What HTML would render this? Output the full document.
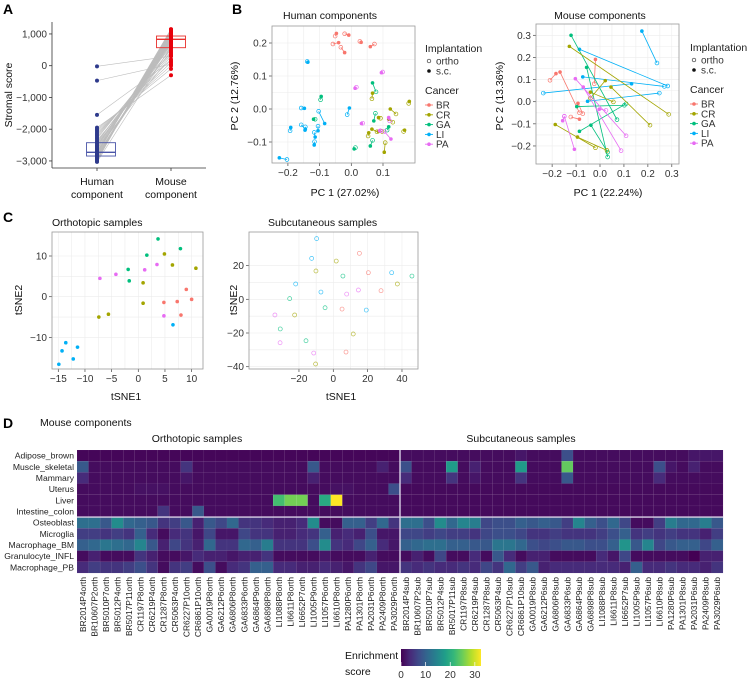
<!DOCTYPE html>
<html><head><meta charset="utf-8"><style>
html,body{margin:0;padding:0;background:#fff}
svg{display:block;font-family:"Liberation Sans",sans-serif}
text{fill:#222}
.tk{font-size:10px;fill:#333}
.ti{font-size:10.5px;fill:#111}
.lt{font-size:10.5px}
.pl{font-size:14px;font-weight:bold;fill:#000}
.grid{stroke:#ececec;stroke-width:0.6}
.box{fill:none;stroke:#999;stroke-width:0.8}
</style></head><body>
<svg id="fig" width="747" height="681" viewBox="0 0 747 681">
<text class="pl" x="3" y="14">A</text>
<text class="pl" x="232" y="14">B</text>
<text class="pl" x="3" y="222">C</text>
<text class="pl" x="3" y="428">D</text>

<g id="pa">
<line x1="52" y1="22" x2="52" y2="168" stroke="#333" stroke-width="0.8"/>
<line x1="52" y1="168" x2="206" y2="168" stroke="#333" stroke-width="0.8"/>
<text class="ti" transform="translate(12,95) rotate(-90)" text-anchor="middle">Stromal score</text>
<text class="ti" x="97" y="185" text-anchor="middle">Human</text>
<text class="ti" x="97" y="198" text-anchor="middle">component</text>
<text class="ti" x="171" y="185" text-anchor="middle">Mouse</text>
<text class="ti" x="171" y="198" text-anchor="middle">component</text>
</g>

<text class="ti" x="330" y="19" text-anchor="middle">Human components</text>
<text class="ti" transform="translate(238,96) rotate(-90)" text-anchor="middle">PC 2 (12.76%)</text>
<text class="ti" x="345" y="196" text-anchor="middle">PC 1 (27.02%)</text>
<text class="ti" x="600" y="19" text-anchor="middle">Mouse components</text>
<text class="ti" transform="translate(503,96) rotate(-90)" text-anchor="middle">PC 2 (13.36%)</text>
<text class="ti" x="608" y="196" text-anchor="middle">PC 1 (22.24%)</text>

<text class="ti" x="52" y="226">Orthotopic samples</text>
<text class="ti" x="268" y="226">Subcutaneous samples</text>
<text class="ti" transform="translate(22,300) rotate(-90)" text-anchor="middle">tSNE2</text>
<text class="ti" x="126" y="400" text-anchor="middle">tSNE1</text>
<text class="ti" transform="translate(237,300) rotate(-90)" text-anchor="middle">tSNE2</text>
<text class="ti" x="341" y="400" text-anchor="middle">tSNE1</text>

<text class="ti" x="40" y="426">Mouse components</text>
<text class="ti" x="197" y="442" text-anchor="middle">Orthotopic samples</text>
<text class="ti" x="521" y="442" text-anchor="middle">Subcutaneous samples</text>
<text class="ti" x="345" y="659">Enrichment</text>
<text class="ti" x="345" y="675">score</text>
<defs><linearGradient id="vir" x1="0" x2="1" y1="0" y2="0">
<stop offset="0" stop-color="#440154"/><stop offset="0.11" stop-color="#482878"/><stop offset="0.22" stop-color="#3E4A89"/><stop offset="0.33" stop-color="#31688E"/><stop offset="0.44" stop-color="#26828E"/><stop offset="0.55" stop-color="#1F9E89"/><stop offset="0.66" stop-color="#35B779"/><stop offset="0.77" stop-color="#6DCD59"/><stop offset="0.88" stop-color="#B4DE2C"/><stop offset="1" stop-color="#FDE725"/></linearGradient></defs>
<rect x="401" y="649" width="80" height="17" fill="url(#vir)"/>
</svg>
<script>
var NS="http://www.w3.org/2000/svg";
var svg=document.getElementById('fig');
function mk(tag,a,p){var e=document.createElementNS(NS,tag);for(var k in a)e.setAttribute(k,a[k]);(p||svg).appendChild(e);return e;}

var aTicks=[1000,0,-1000,-2000,-3000];
var aTickLabels=["1,000","0","\u22121,000","\u22122,000","\u22123,000"];
var humanScores=[-20,-470,-1550,-1950,-2000,-2050,-2100,-2150,-2200,-2250,-2300,-2350,-2400,-2430,-2450,-2500,-2520,-2550,-2580,-2600,-2620,-2650,-2680,-2700,-2710,-2720,-2730,-2740,-2750,-2760,-2770,-2780,-2790,-2800,-2810,-2820,-2830,-2840,-2850,-2860,-2870,-2880,-2890,-2900,-2910,-2920,-2930,-2940,-2950,-2960,-2970,-2980,-2990,-3000,-3010,-3030];
var mouseScores=[300,50,150,-300,-100,0,100,200,400,500,600,350,650,700,450,750,800,820,850,300,870,900,550,920,940,960,980,1000,1020,1050,1080,1100,1120,1150,800,830,860,880,900,700,750,780,810,840,870,900,930,960,990,1020,1060,1090,1110,1130,1150,600];
var humanBox=[-2845,-2728,-2425];
var mouseBox=[567,831,935];
function ay(v){return 65.7-v*0.03175;}
var XH=97,XM=171;
aTicks.forEach(function(t,i){
  var l=mk('line',{x1:49,x2:52,y1:ay(t),y2:ay(t),stroke:'#333','stroke-width':0.8});
  
  
  var tx=mk('text',{x:47,y:ay(t)+3.5,'text-anchor':'end','class':'tk'});tx.textContent=aTickLabels[i];
  
  
});
[XH,XM].forEach(function(x){var l=mk('line',{x1:x,x2:x,y1:168,y2:171,stroke:'#333','stroke-width':0.8});
  
  });
humanScores.forEach(function(h,i){
  var l=mk('line',{x1:XH,y1:ay(h),x2:XM,y2:ay(mouseScores[i]),stroke:'#bdbdbd','stroke-width':0.6});
  
  
});
function drawBox(b,cx,col,nm){
  var r=mk('rect',{x:cx-14.5,y:ay(b[2]),width:29,height:ay(b[0])-ay(b[2]),fill:'none',stroke:col,'stroke-width':0.9});
  
  
  var m=mk('line',{x1:cx-14.5,x2:cx+14.5,y1:ay(b[1]),y2:ay(b[1]),stroke:col,'stroke-width':1.4});
  
  
}
drawBox(humanBox,101,'#4a55a8','a-human-box');
drawBox(mouseBox,171,'#e8302c','a-mouse-box');
humanScores.forEach(function(h){var c=mk('circle',{cx:XH,cy:ay(h),r:2,fill:'#2e3a8c'});
  
  });
mouseScores.forEach(function(h){var c=mk('circle',{cx:XM,cy:ay(h),r:2,fill:'#e8000b'});
  
  });

var COL={BR:'#F8766D',CR:'#A3A500',GA:'#00BF7D',LI:'#00B0F6',PA:'#E76BF3'};
function frame(box,xs,ys,xt,yt,xl,yl,pre){
  var r=mk('rect',{x:box[0],y:box[1],width:box[2]-box[0],height:box[3]-box[1],fill:'#fff',stroke:'none'});
  
  
  for(var i=0;i<xt.length;i++){
    if(i<xt.length-1){var mx=(xs(xt[i])+xs(xt[i+1]))/2;var g0=mk('line',{x1:mx,x2:mx,y1:box[1],y2:box[3],'class':'grid','stroke-width':0.3});
      
      }
    var g=mk('line',{x1:xs(xt[i]),x2:xs(xt[i]),y1:box[1],y2:box[3],'class':'grid'});
    
    
    var tk=mk('line',{x1:xs(xt[i]),x2:xs(xt[i]),y1:box[3],y2:box[3]+3,stroke:'#444','stroke-width':0.7});
    
    
    var t=mk('text',{x:xs(xt[i]),y:box[3]+13,'text-anchor':'middle','class':'tk'});t.textContent=xl[i];
    
    
  }
  for(var j=0;j<yt.length;j++){
    if(j<yt.length-1){var my=(ys(yt[j])+ys(yt[j+1]))/2;var h0=mk('line',{x1:box[0],x2:box[2],y1:my,y2:my,'class':'grid','stroke-width':0.3});
      
      }
    var h=mk('line',{x1:box[0],x2:box[2],y1:ys(yt[j]),y2:ys(yt[j]),'class':'grid'});
    
    
    var tk2=mk('line',{x1:box[0]-3,x2:box[0],y1:ys(yt[j]),y2:ys(yt[j]),stroke:'#444','stroke-width':0.7});
    
    
    var t2=mk('text',{x:box[0]-5,y:ys(yt[j])+3.5,'text-anchor':'end','class':'tk'});t2.textContent=yl[j];
    
    
  }
  var b=mk('rect',{x:box[0],y:box[1],width:box[2]-box[0],height:box[3]-box[1],'class':'box'});
  
  
}
function pairs(cancer,oX,oY,sX,sY,xs,ys,pre){
  for(var i=0;i<cancer.length;i++){
    var c=COL[cancer[i]];
    var l=mk('line',{x1:xs(oX[i]),y1:ys(oY[i]),x2:xs(sX[i]),y2:ys(sY[i]),stroke:c,'stroke-width':0.8});
    
    
    var o=mk('circle',{cx:xs(oX[i]),cy:ys(oY[i]),r:1.9,fill:'none',stroke:c,'stroke-width':0.7});
    
    
    var s=mk('circle',{cx:xs(sX[i]),cy:ys(sY[i]),r:1.8,fill:c});
    
    
  }
}
function legend(x,y,pre){
  var t=mk('text',{x:x,y:y,'class':'lt'});t.textContent='Implantation';
  
  
  var o=mk('circle',{cx:x+4,cy:y+9,r:1.8,fill:'none',stroke:'#333','stroke-width':0.7});
  
  
  var ot=mk('text',{x:x+11,y:y+12.5,'class':'tk'});ot.textContent='ortho';
  
  
  var s=mk('circle',{cx:x+4,cy:y+19,r:1.8,fill:'#111'});
  
  
  var st=mk('text',{x:x+11,y:y+22.5,'class':'tk'});st.textContent='s.c.';
  
  
  var ct=mk('text',{x:x,y:y+42,'class':'lt'});ct.textContent='Cancer';
  
  
  ['BR','CR','GA','LI','PA'].forEach(function(k,i){
    var yy=y+53+i*9.8;
    var l=mk('line',{x1:x,x2:x+8,y1:yy,y2:yy,stroke:COL[k],'stroke-width':0.9});
    
    
    var d=mk('circle',{cx:x+4,cy:yy,r:1.8,fill:COL[k]});
    
    
    var tt=mk('text',{x:x+11,y:yy+3.5,'class':'tk'});tt.textContent=k;
    
    
  });
}

var hTicksX=[-0.2,-0.1,0.0,0.1];
var hTickLabelsX=["\u22120.2","\u22120.1","0.0","0.1"];
var hTicksY=[0.2,0.1,0.0,-0.1];
var hTickLabelsY=["0.2","0.1","0.0","\u22120.1"];
var hCancer=["BR","BR","BR","BR","BR","BR","LI","LI","LI","LI","LI","LI","LI","LI","LI","LI","LI","GA","GA","GA","GA","GA","GA","GA","CR","CR","CR","CR","CR","CR","CR","CR","CR","CR","PA","PA","PA","PA","PA","PA"];
var hOrthoX=[-0.051,-0.021,-0.058,-0.033,0.027,0.073,-0.139,-0.158,-0.193,-0.158,-0.145,-0.103,-0.105,-0.117,-0.116,-0.013,-0.203,-0.097,-0.114,0.078,0.076,0.113,0.013,0.067,0.065,0.141,0.092,0.131,0.081,0.053,0.097,0.181,0.165,0.107,0.099,0.016,0.036,0.121,0.092,0.104];
var hOrthoY=[0.221,0.228,0.197,0.187,0.205,0.197,0.144,0.003,-0.066,-0.048,-0.054,-0.007,-0.052,-0.071,-0.099,-0.017,-0.153,0.028,-0.031,0.052,-0.013,-0.064,-0.117,-0.095,0.031,-0.015,-0.028,-0.040,-0.069,-0.082,-0.068,0.017,-0.068,-0.102,0.112,0.066,-0.043,-0.036,-0.066,-0.068];
var hScX=[-0.047,-0.008,-0.040,-0.021,0.031,0.060,-0.137,-0.148,-0.191,-0.145,-0.146,-0.084,-0.105,-0.114,-0.117,-0.006,-0.227,-0.095,-0.119,0.067,0.071,0.118,0.009,0.060,0.067,0.123,0.086,0.118,0.065,0.055,0.086,0.183,0.168,0.104,0.095,0.012,0.032,0.118,0.089,0.125];
var hScY=[0.229,0.224,0.201,0.171,0.202,0.189,0.142,0.002,-0.056,-0.061,-0.064,-0.044,-0.066,-0.085,-0.109,0.003,-0.148,0.038,-0.031,0.079,-0.036,-0.054,-0.121,-0.112,0.048,0.000,-0.026,-0.031,-0.061,-0.072,-0.068,0.023,-0.064,-0.131,0.110,0.063,-0.044,-0.026,-0.066,-0.091];
function hx(v){return 351.3+v*317;}
function hy(v){return 109-v*330;}
frame([272,26,415,163],hx,hy,hTicksX,hTicksY,hTickLabelsX,hTickLabelsY,'b-human');
pairs(hCancer,hOrthoX,hOrthoY,hScX,hScY,hx,hy,'b-human');
legend(425,52,'b-human');

var mTicksX=[-0.2,-0.1,0.0,0.1,0.2,0.3];
var mTickLabelsX=["\u22120.2","\u22120.1","0.0","0.1","0.2","0.3"];
var mTicksY=[0.3,0.2,0.1,0.0,-0.1,-0.2];
var mTickLabelsY=["0.3","0.2","0.1","0.0","\u22120.1","\u22120.2"];
var mCancer=["LI","LI","LI","LI","LI","BR","BR","BR","BR","BR","GA","GA","GA","GA","GA","CR","CR","CR","CR","CR","CR","PA","PA","PA","PA","PA"];
var mScX=[0.175,-0.086,-0.072,0.132,-0.052,-0.184,-0.167,-0.019,-0.092,-0.086,-0.121,-0.056,-0.097,-0.086,-0.038,-0.128,0.022,0.046,-0.187,-0.094,-0.040,-0.103,-0.070,-0.156,-0.107,-0.003];
var mScY=[0.319,0.237,0.112,0.081,0.002,0.127,0.134,0.191,-0.007,-0.079,0.300,0.155,-0.022,-0.134,-0.106,0.250,0.095,0.066,-0.103,-0.160,0.043,0.104,0.066,-0.086,-0.215,-0.034];
var mOrthoX=[0.238,0.283,0.269,-0.237,0.248,-0.209,-0.086,-0.024,-0.072,-0.122,0.071,0.032,0.102,0.109,0.032,0.287,-0.040,0.209,-0.019,0.029,0.056,0.109,0.088,-0.149,-0.149,0.025];
var mOrthoY=[0.175,0.071,0.069,0.039,0.039,0.097,-0.050,0.081,-0.054,-0.069,-0.081,-0.250,-0.016,-0.009,-0.228,-0.057,0.016,-0.106,-0.208,-0.220,-0.001,-0.154,-0.221,-0.066,-0.066,-0.039];
function mx(v){return 600+v*239.3;}
function my(v){return 101.7-v*221.3;}
frame([536,24,679,164],mx,my,mTicksX,mTicksY,mTickLabelsX,mTickLabelsY,'b-mouse');
pairs(mCancer,mOrthoX,mOrthoY,mScX,mScY,mx,my,'b-mouse');
legend(690,51,'b-mouse');

var cTicksX=[-15,-10,-5,0,5,10];
var cTickLabelsX=["\u221215","\u221210","\u22125","0","5","10"];
var cTicksY=[10,0,-10];
var cTickLabelsY=["10","0","\u221210"];
var oCancer=["PA","PA","GA","GA","PA","PA","CR","CR","CR","CR","BR","BR","BR","BR","BR","PA","LI","CR","CR","LI","LI","LI","LI","LI","GA","GA","GA","CR"];
var oX=[-7.2,-4.2,-1.9,-1.7,1.2,3.5,6.4,10.8,0.9,0.9,4.8,7.3,9.0,10.0,8.0,4.8,6.5,-7.4,-5.6,-13.6,-14.3,-11.4,-12.2,-14.9,3.7,7.9,1.6,4.9];
var oY=[4.5,5.5,6.7,3.9,6.6,7.9,7.8,7.0,3.4,-1.6,-1.4,-1.2,1.8,-0.65,-4.5,-4.7,-6.9,-5.0,-4.3,-11.3,-13.3,-12.4,-15.3,-16.6,14.2,11.8,10.2,10.5];
function cx1(v){return 138.3+v*5.333;}
function cy1(v){return 296.7-v*4.07;}
frame([52,232,203,369],cx1,cy1,cTicksX,cTicksY,cTickLabelsX,cTickLabelsY,'c-ortho');
oX.forEach(function(v,i){var c=mk('circle',{cx:cx1(v),cy:cy1(oY[i]),r:1.8,fill:COL[oCancer[i]]});
  
  });

var sTicksX=[-20,0,20,40];
var sTickLabelsX=["\u221220","0","20","40"];
var sTicksY=[20,0,-20,-40];
var sTickLabelsY=["20","0","\u221220","\u221240"];
var sCancer=["LI","LI","BR","CR","CR","GA","BR","LI","GA","CR","LI","LI","PA","PA","BR","GA","GA","BR","LI","PA","CR","GA","CR","GA","PA","PA","BR","CR"];
var sX=[-9.7,-12.6,15.2,1.7,-10.1,5.6,20.4,34,45.8,37.3,-21.9,-7.2,7.8,14.6,27.8,-25.4,-4.8,5.1,19.2,-34,-22.5,-30.9,11.6,-15.9,-31,-11.4,7.4,-10.3];
var sY=[36,24.3,27.3,22.7,16.8,13.8,15.8,15.8,13.8,9.1,9.1,4.3,3.1,5.5,5.1,0.4,-5,-5.8,-6.4,-9.3,-9.3,-17.6,-20.6,-24.6,-25.8,-31.9,-31.3,-38.4];
function cx2(v){return 333.3+v*1.717;}
function cy2(v){return 299.3-v*1.685;}
frame([249,232,418,369],cx2,cy2,sTicksX,sTicksY,sTickLabelsX,sTickLabelsY,'c-sub');
sX.forEach(function(v,i){var c=mk('circle',{cx:cx2(v),cy:cy2(sY[i]),r:2,fill:'none',stroke:COL[sCancer[i]],'stroke-width':0.7,'stroke-opacity':0.75});
  
  });

var rowNames=["Adipose_brown","Muscle_skeletal","Mammary","Uterus","Liver","Intestine_colon","Osteoblast","Microglia","Macrophage_BM","Granulocyte_INFL","Macrophage_PB"];
var samples=["BR2014P4","BR10607P2","BR5010P7","BR5012P4","BR5017P11","CR1197P8","CR6219P4","CR1287P8","CR5063P4","CR6227P10","CR6861P10","GA0019P8","GA6212P6","GA6806P8","GA6833P6","GA6864P9","GA6898P8","LI1088P8","LI6611P8","LI6652P7","LI1005P9","LI1057P6","LI6610P8","PA1280P6","PA1301P8","PA2031P6","PA2409P8","PA3029P6"];
var colNames=samples.map(function(s){return s+'orth';}).concat(samples.map(function(s){return s+'sub';}));
var rowAdipose=[.5,.5,.5,.5,.5,.5,.5,.5,.5,.5,.5,.5,.5,.5,.5,.5,.5,.5,.5,.5,.5,.5,.5,.5,.5,.5,.5,.5, 1,1,1,1,1,1,1,1,1,1,2,1,1,1,8,1,1,1,1,1,1,1,1,1,1,2,2,2];
var rowMuscle=[9,1,1,1,1,1,1,1,1,5,1,1,1,1,1,1,1,1,1,1,9,1,1,1,1,1,3,1, 8,1,1,1,18,1,3,1,1,1,18,1,1,1,25,1,1,1,1,1,1,1,8,2,1,3,1,1];
var rowMammary=[4,1,1,1,1,1,1,1,1,2,1,1,1,1,1,1,1,1,1,1,3,1,1,1,1,1,1,1, 4,1,1,1,5,1,2,1,1,1,5,1,1,1,9,1,1,1,1,1,1,1,4,1,1,1,1,1];
var rowUterus=[1,1,1,1,1,1.5,1.5,1.5,1,1,1,1,1,1,1,1,1,1,1,1,1,1,1.5,1.5,1,1,1,8, .8,.8,.8,.8,.8,.8,.8,.8,.8,.8,.8,.8,.8,.8,.8,.8,.8,.8,.8,.8,.8,.8,.8,.8,.8,.8,.8,.8];
var rowLiver=[1,1,1,1,1,1,1,1,1,1,1,1,1,1,1,1,1,23,26,26,1,20,34,1,1,1,1,1, .8,.8,.8,.8,.8,.8,.8,.8,.8,.8,.8,.8,.8,.8,.8,.8,.8,.8,.8,.8,.8,.8,.8,.8,.8,.8,.8,.8];
var rowIntestine=[1,1,1,1,1,1,1,5,1,1,9,1,1,1,1,1,1,1,1,1,1,1,1,1,1,1,1,1, .8,.8,.8,.8,.8,.8,.8,.8,.8,.8,.8,.8,.8,.8,.8,.8,.8,.8,.8,.8,.8,.8,.8,.8,.8,.8,.8,.8];
var rowOsteo=[12,12,9,16,11,10,9,5,6,9,3,9,7,11,5,5,4,3,3,4,16,1,1,10,10,6,11,5, 12,12,8,16,11,15,14,7,8,8,10,9,10,9,6,15,10,8,11,7,1,1,6,14,11,11,14,9];
var rowMicroglia=[6,6,5,6,5,10,4,1,4,5,2,7,2,2,7,5,5,3,3,4,5,10,3,4,3,8,2,2, 7,7,6,7,6,6,5,7,8,8,7,5,5,6,5,5,5,6,8,10,5,6,5,6,5,5,3,6];
var rowMacBM=[10,11,13,12,11,15,9,3,7,5,3,11,5,5,11,10,14,5,5,5,8,16,5,4,7,10,4,2, 10,11,12,12,10,10,9,9,13,13,11,8,7,8,9,9,8,8,10,17,9,15,7,9,10,10,7,10];
var rowGran=[1,3,1,1,1,5,3,1,1,2,4,3,3,2,3,3,5,1,1,1,1,2,1,1,1,3,1,1, 1,3,1,7,1,1,4,1,9,4,1,3,3,1,1,1,1,4,2,7,1,1,1,1,1,0,3,3];
var rowMacPB=[4,6,5,5,6,8,5,1,5,6,1,8,1,4,5,10,10,4,4,3,3,4,3,2,5,7,2,2, 5,4,5,4,4,5,4,7,5,11,6,9,3,4,4,4,4,4,4,3,10,4,4,5,4,4,3,5];
var matrix=[rowAdipose,rowMuscle,rowMammary,rowUterus,rowLiver,rowIntestine,rowOsteo,rowMicroglia,rowMacBM,rowGran,rowMacPB];
var legendTicks=[0,10,20,30];
var VIR=["#440154","#482878","#3E4A89","#31688E","#26828E","#1F9E89","#35B779","#6DCD59","#B4DE2C","#FDE725"];
var VMAX=33;
function hex(c){return [parseInt(c.substr(1,2),16),parseInt(c.substr(3,2),16),parseInt(c.substr(5,2),16)];}
function vir(v){var t=Math.max(0,Math.min(1,v/VMAX))*(VIR.length-1);var i=Math.min(Math.floor(t),VIR.length-2);var f=t-i;
  var a=hex(VIR[i]),b=hex(VIR[i+1]);return 'rgb('+a.map(function(x,k){return Math.round(x+(b[k]-x)*f);}).join(',')+')';}
var HX0=77,HX1=723,HY0=450,HY1=573;
var cw=(HX1-HX0)/colNames.length, rh=(HY1-HY0)/rowNames.length;
function colX(j){return HX0+j*cw;}
function rowY(i){return HY0+i*rh;}
matrix.forEach(function(row,i){
  row.forEach(function(v,j){
    var r=mk('rect',{x:colX(j),y:rowY(i),width:cw+0.05,height:rh+0.05,fill:vir(v),stroke:'rgba(255,255,255,0.08)','stroke-width':0.4});
    
    
  });
});
var sepV=mk('line',{x1:colX(28),x2:colX(28),y1:HY0,y2:HY1,stroke:'#d9d0e6','stroke-width':1.4});


var sepH=mk('line',{x1:HX0,x2:HX1,y1:rowY(6),y2:rowY(6),stroke:'#d9d0e6','stroke-width':1.4});


rowNames.forEach(function(n,i){
  var t=mk('text',{x:HX0-3,y:rowY(i)+rh/2+3,'text-anchor':'end',style:'font-size:8.6px;fill:#222'});t.textContent=n;
  
  
});
colNames.forEach(function(n,j){
  var x=colX(j)+cw/2+3;
  var t=mk('text',{transform:'translate('+x+','+(HY1+4)+') rotate(-90)','text-anchor':'end',style:'font-size:8.4px;fill:#222'});t.textContent=n;
  
  
});
legendTicks.forEach(function(v){
  var x=401+v/32.5*80;
  var l=mk('line',{x1:x,x2:x,y1:662,y2:666,stroke:'#fff','stroke-width':0.7});
  
  
  var t=mk('text',{x:x,y:678,'text-anchor':'middle','class':'tk'});t.textContent=v;
  
  
});
</script>
</body></html>
